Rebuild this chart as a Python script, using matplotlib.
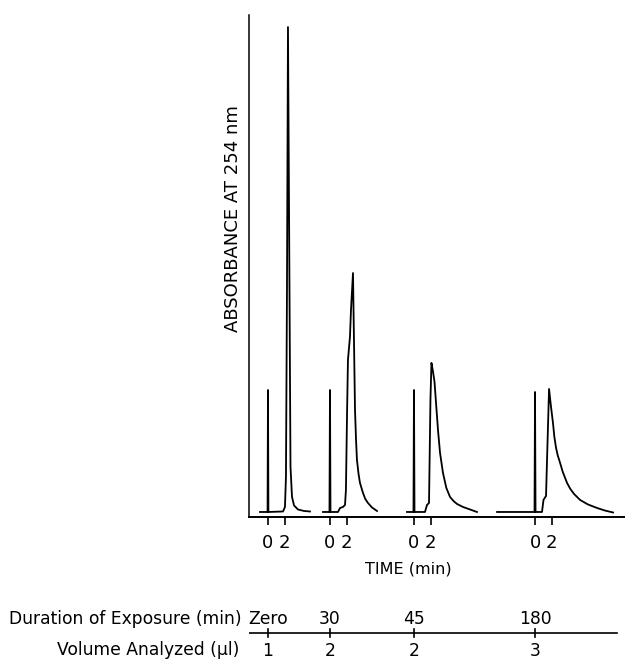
import matplotlib
matplotlib.use("Agg")
import matplotlib.pyplot as plt

# chromatograms: time (min, from injection) and absorbance (arbitrary units, 0-100)
chrom1_t = [-0.95, -0.05, 0.0, 0.05, 1.79, 2.02, 2.14, 2.26, 2.38, 2.56, 2.68, 2.86, 3.1, 3.57, 4.29, 5.0]
chrom1_a = [1.0, 1.0, 25.3, 1.0, 1.1, 2.0, 8.0, 45.0, 97.6, 45.0, 10.0, 4.0, 2.3, 1.5, 1.2, 1.1]

chrom2_t = [-0.83, -0.06, 0.0, 0.06, 0.95, 1.2, 1.55, 1.79, 1.9, 2.02, 2.14, 2.38, 2.5, 2.74,
            2.98, 3.1, 3.21, 3.4, 3.57, 3.93, 4.2, 4.52, 5.0, 5.6]
chrom2_a = [1.0, 1.0, 25.3, 1.0, 1.0, 1.8, 2.0, 2.4, 5.4, 19.3, 31.3, 35.9, 41.2, 48.6,
            21.3, 15.5, 11.4, 8.6, 6.8, 4.8, 3.6, 2.8, 1.9, 1.2]

chrom3_t = [-0.83, -0.06, 0.0, 0.06, 1.31, 1.55, 1.79, 1.96, 2.08, 2.26, 2.44, 2.86, 3.1,
            3.45, 3.85, 4.29, 4.7, 5.12, 5.83, 6.67, 7.5]
chrom3_a = [1.0, 1.0, 25.3, 1.0, 1.0, 2.4, 2.8, 23.3, 30.7, 29.0, 27.0, 17.3, 12.8,
            8.8, 5.8, 4.0, 3.2, 2.6, 2.0, 1.5, 1.0]

chrom4_t = [-4.52, -0.06, 0.0, 0.06, 0.83, 1.01, 1.31, 1.43, 1.67, 1.9, 2.14, 2.3, 2.5, 2.7,
            2.98, 3.3, 3.81, 4.2, 4.64, 5.36, 6.3, 7.38, 8.3, 9.29]
chrom4_a = [1.0, 1.0, 24.9, 1.0, 1.0, 3.4, 4.2, 11.4, 25.5, 22.0, 18.7, 16.0, 13.8, 12.3,
            10.8, 9.0, 6.8, 5.6, 4.6, 3.4, 2.5, 1.8, 1.3, 0.9]

# where each chromatogram starts on the common time axis (min)
injection_at = [2.26, 9.64, 19.64, 34.05]
tick_minutes = [0, 2]

exposure_labels = ['Zero', '30', '45', '180']
volume_labels = ['1', '2', '2', '3']

traces = [(chrom1_t, chrom1_a), (chrom2_t, chrom2_a), (chrom3_t, chrom3_a), (chrom4_t, chrom4_a)]

W, H = 626, 660
fig = plt.figure(figsize=(W / 100, H / 100), dpi=100)

# main chromatogram axes
left, right, top, bottom = 249, 624, 15, 517
ax = fig.add_axes([left / W, (H - bottom) / H, (right - left) / W, (bottom - top) / H])
for (t, a), t0 in zip(traces, injection_at):
    ax.plot([t0 + v for v in t], a, color='black', lw=1.3)

ax.set_xlim(0, (right - left) / 8.4)
ax.set_ylim(0, 100)
ax.spines['top'].set_visible(False)
ax.spines['right'].set_visible(False)
ax.spines['left'].set_linewidth(1.1)
ax.spines['bottom'].set_linewidth(1.4)
ax.set_yticks([])

xt = [t0 + m for t0 in injection_at for m in tick_minutes]
ax.set_xticks(xt)
ax.set_xticklabels([str(m) for t0 in injection_at for m in tick_minutes], fontsize=13)
ax.tick_params(axis='x', direction='out', length=6, width=1.2, pad=6)

ax.set_ylabel('ABSORBANCE AT 254 nm', fontsize=13, labelpad=2)
ax.yaxis.set_label_coords(-0.02, 0.594)

fig.text(408 / W, 1 - 569 / H, 'TIME (min)', fontsize=11.5, ha='center', va='center')

# exposure / volume table below the chart
tax = fig.add_axes([left / W, 0, (right - left) / W, 55 / H])
tax.set_xlim(ax.get_xlim())
tax.set_ylim(0, 1)
tax.axis('off')
tax.axhline(0.49, xmin=0.0, xmax=0.98, color='black', lw=1.2)
for x0, e, v in zip(injection_at, exposure_labels, volume_labels):
    tax.plot([x0, x0], [0.42, 0.56], color='black', lw=1.2)
    tax.text(x0, 0.75, e, fontsize=12.3, ha='center', va='center')
    tax.text(x0, 0.17, v, fontsize=12.3, ha='center', va='center')

fig.text(242 / W, 1 - 619 / H, 'Duration of Exposure (min)', fontsize=12.3, ha='right', va='center')
fig.text(239 / W, 1 - 650 / H, 'Volume Analyzed (\u00b5l)', fontsize=12.3, ha='right', va='center')

fig.savefig('out.png', dpi=100)
